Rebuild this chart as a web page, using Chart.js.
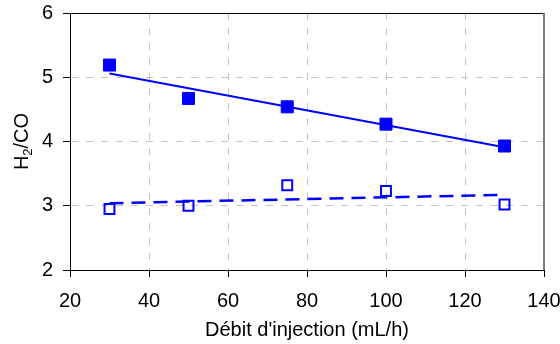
<!DOCTYPE html>
<html>
<head>
<meta charset="utf-8">
<script src="https://cdn.jsdelivr.net/npm/chart.js@4/dist/chart.umd.min.js"></script>
<style>
  body { margin: 0; background: #fff; }
  canvas { display: block; }
</style>
</head>
<body>
<canvas id="chart" width="560" height="344"></canvas>
<script>
// debit d'injection (mL/h)
const flowRates = [30, 50, 75, 100, 130];
// H2/CO, filled squares
const ratioFilled = [5.19, 4.67, 4.54, 4.27, 3.93];
// H2/CO, open squares
const ratioOpen = [2.95, 3.0, 3.32, 3.23, 3.02];
// linear trend lines (end points)
const fitX = [30, 130];
const fitFilled = [5.06, 3.91];
const fitOpen = [3.04, 3.17];

const xTicks = [20, 40, 60, 80, 100, 120, 140];
const yTicks = [2, 3, 4, 5, 6];

const blue = '#0000ff';
const fontFam = '"Liberation Sans", Arial, sans-serif';

function pts(xs, ys) {
  return xs.map((x, i) => ({ x: x, y: ys[i] }));
}

// frame on top and right side of the plot area
const framePlugin = {
  id: 'frame',
  beforeDatasetsDraw(chart) {
    const a = chart.chartArea, c = chart.ctx;
    c.save();
    c.strokeStyle = '#000';
    c.lineWidth = 1;
    c.beginPath();
    c.moveTo(a.left, a.top + 0.5);
    c.lineTo(a.right, a.top + 0.5);
    c.stroke();
    c.strokeStyle = '#7a7a7a';
    c.lineWidth = 2;
    c.beginPath();
    c.moveTo(a.right, a.top);
    c.lineTo(a.right, a.bottom);
    c.stroke();
    c.restore();
  }
};

// y axis title with a subscript 2
const yTitlePlugin = {
  id: 'ytitle',
  afterDraw(chart) {
    const a = chart.chartArea, c = chart.ctx;
    const big = '20px ' + fontFam, small = '13px ' + fontFam;
    c.save();
    c.fillStyle = '#000';
    c.textBaseline = 'alphabetic';
    c.font = big;
    const wH = c.measureText('H').width;
    const wR = c.measureText('/CO').width;
    c.font = small;
    const w2 = c.measureText('2').width;
    const total = wH + w2 + wR;
    c.translate(28, (a.top + a.bottom) / 2);
    c.rotate(-Math.PI / 2);
    let x = -total / 2;
    c.font = big;
    c.fillText('H', x, 0);
    x += wH;
    c.font = small;
    c.fillText('2', x, 4);
    x += w2;
    c.font = big;
    c.fillText('/CO', x, 0);
    c.restore();
  }
};

new Chart(document.getElementById('chart'), {
  type: 'scatter',
  data: {
    datasets: [
      {
        label: 'fit1',
        data: pts(fitX, fitFilled),
        showLine: true,
        borderColor: blue,
        borderWidth: 2,
        pointRadius: 0
      },
      {
        label: 'fit2',
        data: pts(fitX, fitOpen),
        showLine: true,
        borderColor: blue,
        borderWidth: 2.5,
        borderDash: [14, 8],
        pointRadius: 0
      },
      {
        label: 'H2/CO filled',
        data: pts(flowRates, ratioFilled),
        pointStyle: 'rect',
        pointRadius: 8.5,
        backgroundColor: blue,
        borderColor: blue,
        borderWidth: 1
      },
      {
        label: 'H2/CO open',
        data: pts(flowRates, ratioOpen),
        pointStyle: 'rect',
        pointRadius: 7,
        backgroundColor: 'rgba(0,0,0,0)',
        borderColor: blue,
        borderWidth: 2
      }
    ]
  },
  options: {
    responsive: false,
    animation: false,
    devicePixelRatio: 1,
    layout: { padding: { top: 13, right: 16, bottom: 0, left: 0 } },
    plugins: {
      legend: { display: false },
      tooltip: { enabled: false }
    },
    scales: {
      x: {
        type: 'linear',
        min: 20,
        max: 140,
        afterBuildTicks(s) { s.ticks = xTicks.map(v => ({ value: v })); },
        afterFit(s) {
          s.height = 74;
          s.paddingLeft = 0; s.paddingRight = 0;
        },
        ticks: {
          color: '#000',
          padding: 12,
          maxRotation: 0,
          font: { family: fontFam, size: 20 }
        },
        grid: {
          color: c => (c.tick && (c.tick.value === 20 || c.tick.value === 140)) ? 'rgba(0,0,0,0)' : '#c4c4c4',
          tickColor: '#000',
          tickLength: 7,
          lineWidth: 1
        },
        border: { display: true, color: '#000', width: 1, dash: [7, 8] },
        title: {
          display: true,
          text: "Débit d'injection (mL/h)",
          color: '#000',
          font: { family: fontFam, size: 20 },
          padding: { top: 0, bottom: 2 }
        }
      },
      y: {
        type: 'linear',
        min: 2,
        max: 6,
        afterBuildTicks(s) { s.ticks = yTicks.map(v => ({ value: v })); },
        afterFit(s) {
          s.width = 70;
          s.paddingTop = 0; s.paddingBottom = 0;
        },
        ticks: {
          color: '#000',
          padding: 10,
          font: { family: fontFam, size: 20 }
        },
        grid: {
          color: c => (c.tick && (c.tick.value === 2 || c.tick.value === 6)) ? 'rgba(0,0,0,0)' : '#c4c4c4',
          tickColor: '#000',
          tickLength: 7,
          lineWidth: 1
        },
        border: { display: true, color: '#000', width: 1, dash: [7, 8] }
      }
    }
  },
  plugins: [framePlugin, yTitlePlugin]
});
</script>
</body>
</html>
